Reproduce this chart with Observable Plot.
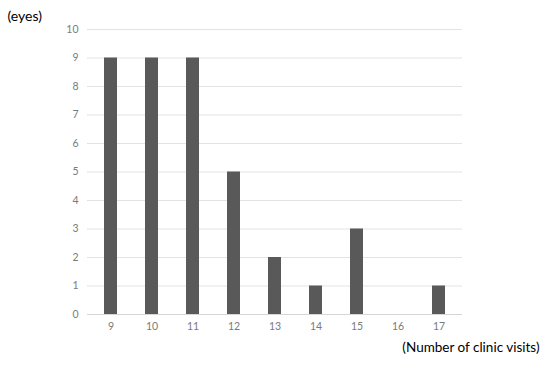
<!DOCTYPE html>
<html>
<head>
<meta charset="utf-8">
<script src="https://cdn.jsdelivr.net/npm/d3@7"></script>
<script src="https://cdn.jsdelivr.net/npm/@observablehq/plot@0.6"></script>
<style>
  html, body { margin: 0; padding: 0; background: #fff; }
  #chart svg { display: block; }
</style>
</head>
<body>
<div id="chart"></div>
<script>
const visits = [9, 10, 11, 12, 13, 14, 15, 16, 17];
const eyes = [9, 9, 9, 5, 2, 1, 3, 0, 1];
const yTicks = [0, 1, 2, 3, 4, 5, 6, 7, 8, 9, 10];
const yLabel = "(eyes)";
const xLabel = "(Number of clinic visits)";

const data = visits.map((v, i) => ({visits: v, eyes: eyes[i]}));

const chart = Plot.plot({
  width: 550,
  height: 366,
  marginLeft: 87,
  marginRight: 88,
  marginTop: 29,
  marginBottom: 52,
  style: {fontFamily: "Lato, 'Open Sans', sans-serif", fontSize: "10px", color: "#7a7a7a", background: "#fff"},
  x: {type: "band", domain: visits, paddingInner: 0.68, paddingOuter: 0.34, label: null},
  y: {domain: [0, 10], label: null},
  marks: [
    Plot.gridY(yTicks.filter(d => d > 0), {stroke: "#e3e3e3", strokeOpacity: 1, strokeWidth: 1}),
    Plot.ruleY([0], {stroke: "#d6d6d6", strokeWidth: 1}),
    Plot.barY(data, {x: "visits", y: "eyes", fill: "#595959"}),
    Plot.axisY({ticks: yTicks, tickSize: 0, tickPadding: 9, fill: "#7a7a7a", fontSize: 10.5, label: null}),
    Plot.axisX({tickSize: 0, tickPadding: 8, fill: "#7a7a7a", fontSize: 10.5, label: null}),
    Plot.text([yLabel], {frameAnchor: "top-left", dx: -80, dy: -18, textAnchor: "start", fontSize: 14, fill: "#000"}),
    Plot.text([xLabel], {frameAnchor: "bottom-right", dx: 77, dy: 37, textAnchor: "end", fontSize: 13.5, fill: "#000"})
  ]
});
document.getElementById("chart").append(chart);
</script>
</body>
</html>
